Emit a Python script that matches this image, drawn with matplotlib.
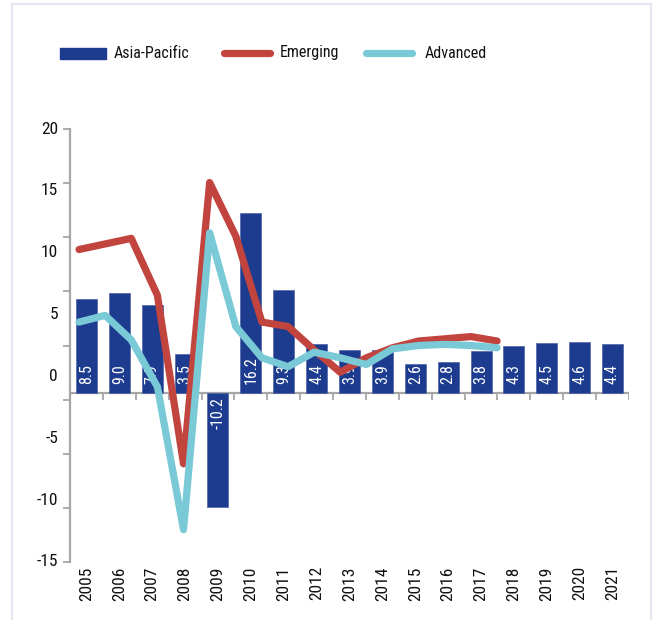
import numpy as np
import matplotlib
matplotlib.use("Agg")
import matplotlib.pyplot as plt
from matplotlib.lines import Line2D
from matplotlib.patches import Rectangle

plt.rcParams['font.family'] = ['Roboto Condensed', 'DejaVu Sans']
plt.rcParams['font.stretch'] = 'condensed'

# data
years = [str(y) for y in range(2005, 2022)]
asia_pacific = [8.5, 9.0, 7.9, 3.5, -10.2, 16.2, 9.3, 4.4, 3.9, 3.9, 2.6, 2.8, 3.8, 4.3, 4.5, 4.6, 4.4]
emerging = [12.9, 13.4, 13.9, 8.8, -6.3, 18.9, 14.1, 6.4, 6.0, 3.9, 1.9, 3.2, 4.1, 4.7, 4.9, 5.1, 4.7]
advanced = [6.4, 7.0, 4.8, 0.6, -12.2, 14.4, 6.0, 3.2, 2.4, 3.7, 3.2, 2.6, 4.0, 4.3, 4.4, 4.3, 4.1]
ytick_labels = ['20', '15', '10', '5', '0', '-5', '-10', '-15']

bar_col = '#1D3C8F'
red = '#C1443F'
cyan = '#79C9D6'
grey = '#A6A6A6'

fig = plt.figure(figsize=(6.55, 6.2), dpi=100)
W, H = 655, 620

# frame lines
frame = '#E6E6F3'
fig.add_artist(Line2D([12 / W, 12 / W], [0, 1 - 4 / H], color=frame, lw=1.6))
fig.add_artist(Line2D([12 / W, 651 / W], [1 - 4 / H, 1 - 4 / H], color=frame, lw=1.6))
fig.add_artist(Line2D([651 / W, 651 / W], [0, 1 - 4 / H], color=frame, lw=1.6))

ax = fig.add_axes([70 / W, 1 - 562 / H, 559 / W, 433 / H])
x = np.arange(len(years))
ylo, yhi = -15.1, 23.7
ax.set_xlim(-0.5, len(years) - 0.5)
ax.set_ylim(ylo, yhi)

ax.bar(x, asia_pacific, width=0.64, color=bar_col, edgecolor='#4E63A6', linewidth=0.5, zorder=2)
for xi, v in zip(x, asia_pacific):
    if v >= 0:
        ax.annotate(f'{v:.1f}', (xi, 0), xytext=(0, 7), textcoords='offset points',
                    rotation=90, ha='center', va='bottom', color='white', fontsize=11.5, zorder=3)
    else:
        ax.annotate(f'{v:.1f}', (xi, 0), xytext=(0, -3), textcoords='offset points',
                    rotation=90, ha='center', va='top', color='white', fontsize=11.5, zorder=3)

# zero line with category ticks
ax.axhline(0, color=grey, lw=1.6, zorder=1)
ax.vlines(np.arange(len(years) + 1) - 0.5, -0.55, 0, color=grey, lw=1.3, zorder=1)

# y axis
for s in ['top', 'right', 'bottom']:
    ax.spines[s].set_visible(False)
ax.spines['left'].set_color(grey)
ax.spines['left'].set_linewidth(1.6)
ax.set_yticks(np.linspace(ylo, yhi, 9))
ax.set_yticklabels([])
ax.tick_params(axis='y', length=5, width=1.3, color=grey)
for k, lab in enumerate(ytick_labels):
    ax.text(-12 / 559, 1 - k / 7, lab, transform=ax.transAxes, ha='right', va='center',
            fontsize=12.5, color='#111111')

ax.set_xticks(x)
ax.set_xticklabels(years, rotation=90, fontsize=12.5, color='#111111', va='top')
ax.tick_params(axis='x', length=0, pad=3)

# lines drawn on their own x scale
ax2 = ax.twiny()
ax2.set_xlim(-0.345, 21.05)
ax2.plot(np.arange(len(years)), emerging, color=red, lw=5.2, solid_capstyle='round',
         solid_joinstyle='round', zorder=4)
ax2.plot(np.arange(len(years)), advanced, color=cyan, lw=5.2, solid_capstyle='round',
         solid_joinstyle='round', zorder=5)
ax2.set_xticks([])
for s in ax2.spines.values():
    s.set_visible(False)

# legend
ly = 1 - 53 / H
fig.add_artist(Rectangle((60 / W, 1 - 59 / H), 46 / W, 11 / H, color=bar_col))
fig.text(114 / W, ly, 'Asia-Pacific', fontsize=11.5, va='center', color='#111111')
fig.add_artist(Line2D([224 / W, 270 / W], [ly, ly], color=red, lw=5.2, solid_capstyle='round'))
fig.text(280 / W, ly, 'Emerging', fontsize=11.5, va='center', color='#111111')
fig.add_artist(Line2D([366 / W, 412 / W], [ly, ly], color=cyan, lw=5.2, solid_capstyle='round'))
fig.text(425 / W, ly, 'Advanced', fontsize=11.5, va='center', color='#111111')

fig.savefig('out.png', dpi=100)
